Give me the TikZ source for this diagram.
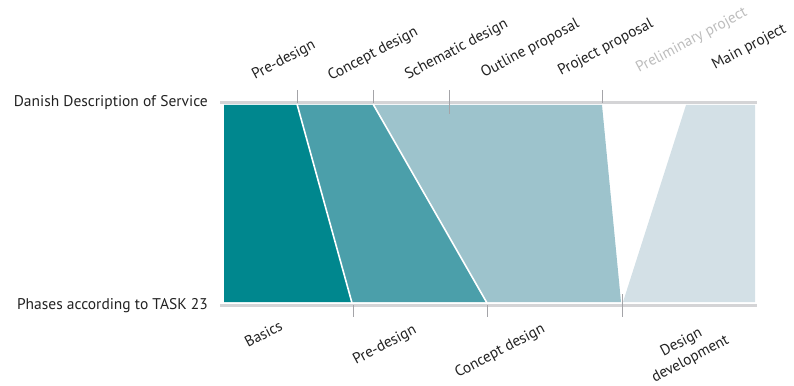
\documentclass[tikz,border=0pt]{standalone}
\usepackage{fontspec}
\setmainfont{PT Sans}
\definecolor{cA}{HTML}{00878E}
\definecolor{cB}{HTML}{4B9FAA}
\definecolor{cC}{HTML}{9DC3CC}
\definecolor{cD}{HTML}{D3E0E6}
\definecolor{barc}{HTML}{D4D4D6}
\definecolor{tickc}{HTML}{A4A4A8}
\definecolor{txt}{HTML}{222222}
\definecolor{faint}{HTML}{BDBDBD}
\begin{document}
\begin{tikzpicture}[x=1pt,y=-1pt,
  phase/.style={font=\fontsize{15.2}{19}\selectfont, text=txt, rotate=28, anchor=base west, inner sep=0pt},
  rowlabel/.style={font=\fontsize{15.5}{18}\selectfont, text=txt, anchor=east, inner sep=0pt},
  barline/.style={draw=barc, line width=3pt},
  tickline/.style={draw=tickc, line width=0.8pt},
  sep/.style={draw=white, line width=1.6pt}]
\useasboundingbox (0,0) rectangle (794,385);
% shapes
\fill[cA] (224,105) -- (297,105) -- (352,302) -- (224,302) -- cycle;
\fill[cB] (297,105) -- (373,105) -- (487,302) -- (352,302) -- cycle;
\fill[cC] (373,105) -- (602,105) -- (621,302) -- (487,302) -- cycle;
\fill[cD] (686,105) -- (755,105) -- (755,302) -- (623,302) -- cycle;
\draw[sep] (297,104) -- (352,303);
\draw[sep] (373,104) -- (487,303);
% bars
\coordinate (t0) at (220,103); \coordinate (t1) at (757,103);
\coordinate (b0) at (220,305); \coordinate (b1) at (757,305);
\draw[barline] (t0) -- (t1);
\draw[barline] (b0) -- (b1);
% ticks
\draw[tickline] (297,90) -- (297,103);
\draw[tickline] (373,90) -- (373,103);
\draw[tickline] (449,90) -- (449,114);
\draw[tickline] (602,90) -- (602,103);
\draw[tickline] (353,305) -- (353,317);
\draw[tickline] (487,305) -- (487,317);
\draw[tickline] (622,294) -- (622,317);
% row labels
\node[rowlabel] (dds) at (208,103) {Danish Description of Service};
\node[rowlabel] (pat) at (208,306) {Phases according to TASK 23};
% top phases
\node[phase] (p1) at (255,80) {Pre-design};
\node[phase] (p2) at (331,81) {Concept design};
\node[phase] (p3) at (408,80) {Schematic design};
\node[phase] (p4) at (484,78) {Outline proposal};
\node[phase] (p5) at (561,76) {Project proposal};
\node[phase, text=faint] (p6) at (639,73) {Preliminary project};
\node[phase] (p7) at (715,70) {Main project};
% bottom phases
\node[phase] (q1) at (248,348) {Basics};
\node[phase] (q2) at (356,365) {Pre-design};
\node[phase] (q3) at (458,378) {Concept design};
\node[phase, anchor=center, align=center] (q4) at (686,351) {Design\\development};
\end{tikzpicture}
\end{document}
